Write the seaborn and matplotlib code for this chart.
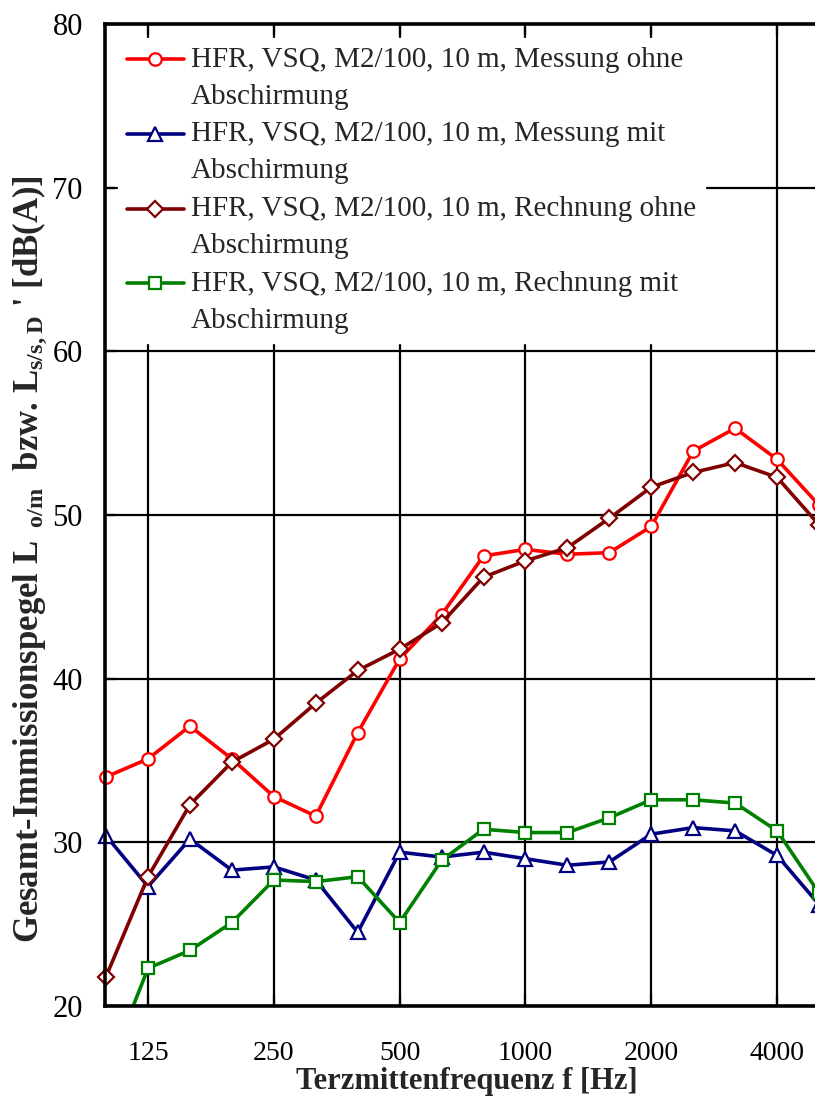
import numpy as np
import pandas as pd
import matplotlib
matplotlib.use("Agg")
import matplotlib.pyplot as plt
from matplotlib.lines import Line2D
from matplotlib.legend_handler import HandlerLine2D
import seaborn as sns

# ---------------- data ----------------
freqs = [100, 125, 160, 200, 250, 315, 400, 500, 630, 800, 1000, 1250,
         1600, 2000, 2500, 3150, 4000, 5000]
tick_freqs = [125, 250, 500, 1000, 2000, 4000]

mess_ohne = [34.0, 35.1, 37.1, 35.1, 32.8, 31.6, 36.7, 41.2, 43.9, 47.5, 47.9,
             47.6, 47.7, 49.3, 53.9, 55.3, 53.4, 50.6]
mess_mit = [30.4, 27.3, 30.2, 28.3, 28.5, 27.7, 24.5, 29.4, 29.1, 29.4, 29.0,
            28.6, 28.8, 30.5, 30.9, 30.7, 29.2, 26.2]
rech_ohne = [21.8, 27.9, 32.3, 34.9, 36.3, 38.5, 40.5, 41.8, 43.4, 46.2, 47.2,
             48.0, 49.8, 51.7, 52.6, 53.2, 52.3, 49.4]
rech_mit = [15.8, 22.3, 23.4, 25.1, 27.7, 27.6, 27.9, 25.1, 28.9, 30.8, 30.6,
            30.6, 31.5, 32.6, 32.6, 32.4, 30.7, 26.9]

labels = ["HFR, VSQ, M2/100, 10 m, Messung ohne\nAbschirmung",
          "HFR, VSQ, M2/100, 10 m, Messung mit\nAbschirmung",
          "HFR, VSQ, M2/100, 10 m, Rechnung ohne\nAbschirmung",
          "HFR, VSQ, M2/100, 10 m, Rechnung mit\nAbschirmung"]
colors = ["#FF0000", "#000080", "#800000", "#008000"]
markers = ["o", "^", "D", "s"]

# ---------------- style ----------------
sns.set_style("white")
plt.rcParams["font.family"] = ["Liberation Serif", "DejaVu Serif"]
plt.rcParams["mathtext.fontset"] = "custom"
plt.rcParams["mathtext.rm"] = "Liberation Serif:bold"
plt.rcParams["mathtext.it"] = "Liberation Serif:italic:bold"
plt.rcParams["mathtext.bf"] = "Liberation Serif:bold"

fig = plt.figure(figsize=(8.15, 10.98), dpi=100)
W, H = 815, 1098
ax = fig.add_axes([105 / W, 92 / H, 735 / W, 982 / H])

idx = np.arange(len(freqs))
series = [mess_ohne, mess_mit, rech_ohne, rech_mit]
msizes = [9, 10, 8, 8.5]
for vals, lab, col, mk, ms in zip(series, labels, colors, markers, msizes):
    df = pd.DataFrame({"x": idx, "y": vals})
    sns.lineplot(data=df, x="x", y="y", ax=ax, color=col, marker=mk,
                 markersize=ms, markerfacecolor="white", markeredgecolor=col,
                 markeredgewidth=1.6, linewidth=2.6, label=lab,
                 clip_on=(col == "#008000"), zorder=3)

ax.set_xlim(-0.0255, 17.5)
ax.set_ylim(20, 80)
tick_pos = [freqs.index(f) for f in tick_freqs]
ax.set_xticks(tick_pos)
ax.set_xticklabels([str(f) for f in tick_freqs], fontsize=20)
ax.set_yticks([20, 30, 40, 50, 60, 70, 80])
ax.set_yticklabels(["20", "30", "40", "50", "60", "70", "80"], fontsize=22)

ax.grid(True, color="black", linewidth=1.6, zorder=1)
ax.set_axisbelow(True)
ax.tick_params(axis="x", direction="in", top=True, bottom=True, length=8,
               width=1.6, pad=25, colors="black")
ax.tick_params(axis="y", direction="in", left=True, length=7, width=1.6,
               pad=16, colors="black")
for s in ["left", "top", "bottom"]:
    ax.spines[s].set_linewidth(2.6)
    ax.spines[s].set_color("black")
    ax.spines[s].set_zorder(12)
ax.spines["right"].set_visible(False)

ax.set_xlabel("Terzmittenfrequenz f [Hz]", fontsize=22, fontweight="bold")
ax.xaxis.label.set_va("center")
ax.xaxis.set_label_coords((467 - 105) / 735, (1006 - 1082) / 982)
ax.set_ylabel(r"Gesamt-Immissionspegel L$_{\ \ \mathrm{o/m}}$  bzw. L$_{\mathrm{s/s,D}}$ ' [dB(A)]",
              fontsize=25, fontweight="bold")
ax.yaxis.label.set_va("center")
ax.yaxis.set_label_coords((30 - 105) / 735, (1006 - 559) / 982)


class FirstLineHandler(HandlerLine2D):
    """Place the legend handle level with the first line of a wrapped label."""
    def create_artists(self, legend, orig_handle, xdescent, ydescent, width,
                       height, fontsize, trans):
        arts = super().create_artists(legend, orig_handle, xdescent, ydescent,
                                      width, height, fontsize, trans)
        for a in arts:
            a.set_ydata(np.asarray(a.get_ydata(), dtype=float) + 13.5)
        return arts


leg = ax.legend(loc="upper left", bbox_to_anchor=(13 / 735, 1 - 14 / 982),
                fontsize=21, frameon=True, fancybox=False,
                facecolor="white", edgecolor="white", framealpha=1,
                borderaxespad=0.0, borderpad=0.3, handlelength=1.95,
                handletextpad=0.25, labelspacing=0.4,
                handler_map={Line2D: FirstLineHandler()})
for t in leg.get_texts():
    t.set_linespacing(1.55)
leg.set_zorder(10)

fig.savefig("out.png", dpi=100)
